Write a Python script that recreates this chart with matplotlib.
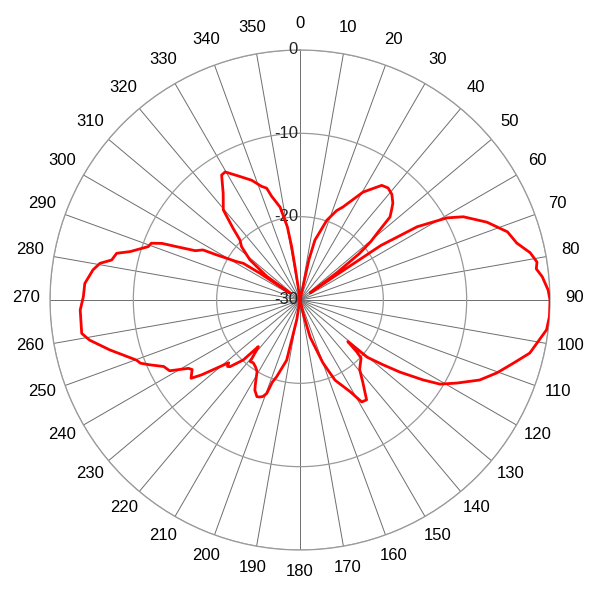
"""
Polar radiation pattern (gain in dB vs azimuth)
"""

import matplotlib
matplotlib.use('Agg')
import matplotlib.pyplot as plt
import matplotlib.transforms as mtransforms
import numpy as np

# azimuth in degrees (0 = north, clockwise) and gain in dB
angles = [0, 11, 12.5, 14, 18.6, 22.3, 24.8, 30.3, 35.5, 38.2, 41, 43.8, 45.5,
          47.3, 49, 50.5, 52, 53.5, 54.8, 55.5, 56, 58, 60.8, 63, 67.4, 71.8,
          75.3, 78.4, 80.9, 82.5, 84.5, 87.7, 90, 93.8, 96.9, 99.9, 103, 106.5,
          110.3, 114, 117.9, 121, 123, 125.8, 128, 130.4, 131, 132.4, 133.5,
          139.4, 142.8, 146.3, 148.8, 151.4, 156.4, 160, 164.8, 167, 170, 186,
          189.4, 192.5, 196.9, 198.6, 199.6, 201, 202.5, 204, 206.6, 208, 211,
          214, 216.7, 219, 220.3, 221.8, 223.4, 226.4, 227.5, 228.6, 229.7,
          232.7, 234.3, 237.2, 238.5, 241.5, 244, 246.6, 248.4, 249.8, 255.3,
          259.2, 261.3, 267.4, 270.9, 274.4, 278.3, 280.4, 282, 284.3, 285.9,
          289.4, 290.9, 292.3, 293.4, 295.2, 297.3, 298.4, 301.2, 302.9, 303.7,
          304.6, 305.5, 308.7, 312.4, 315, 317, 319.6, 324.3, 327.9, 329.7, 334,
          338, 341.3, 343.4, 344.7, 347.9, 350.2, 351.1, 351.5, 352, 353, 360]
gain = [-30, -30, -25, -22.6, -19.9, -18.4, -17.7, -15, -13.1, -12.9, -13.2,
        -13.9, -14.6, -15.3, -17.6, -19.0, -21, -24.5, -28.5, -25, -18.3,
        -13.4, -9.8, -8, -5.7, -3.8, -3.1, -1.8, -1.2, -1.4, -0.8, -0.2, 0, 0,
        -0.2, -1.0, -1.7, -3.3, -4.8, -6.4, -8.7, -10.4, -12.4, -15.2, -17.4,
        -19.4, -22.4, -20.8, -19.9, -19, -17.5, -15.6, -15.7, -17.5, -19.5,
        -22, -25.4, -28.4, -30, -30, -27.6, -22.6, -20.4, -19.6, -18.1, -17.6,
        -17.4, -17.3, -17.9, -18.6, -20, -20.4, -20.6, -20.5, -21.6, -22.5,
        -20.1, -18.4, -18.2, -18.6, -17.9, -15.2, -13.9, -14.6, -14.3, -12.2,
        -11.8, -10.4, -9.4, -9.1, -6.4, -4.3, -3.5, -3.6, -4.0, -4.1, -4.9,
        -5.6, -6.9, -7.3, -8.8, -10.7, -10.9, -12.1, -13.9, -16.1, -16.9,
        -18.6, -21.1, -21.9, -24.2, -28.5, -25.1, -22.3, -20.5, -19.8, -18.2,
        -15.8, -14.2, -12.3, -12.2, -13.5, -14.5, -15.6, -16, -17.1, -18.6,
        -21.1, -23.5, -26, -28.4, -30, -30]

theta_ticks = list(range(0, 360, 10))
r_ticks = [-30, -20, -10, 0]
r_labels = ['-30', '-20', '-10', '0']


def main():
	plt.rcParams['font.family'] = ['Liberation Sans', 'DejaVu Sans']

	fig = plt.figure(figsize=(6, 6), dpi=100)
	ax = fig.add_axes([50 / 600, 50 / 600, 500 / 600, 500 / 600], projection='polar')
	ax.set_theta_zero_location('N')
	ax.set_theta_direction(-1)
	ax.set_rlim(-30, 0)

	# angular grid and labels
	ax.set_thetagrids(theta_ticks, [str(t) for t in theta_ticks])
	ax.tick_params(axis='x', pad=7, labelsize=12, colors='black')
	ax.xaxis.grid(True, color='#6e6e6e', linewidth=0.7)
	# nudge the angle labels up a little
	up = mtransforms.ScaledTranslation(0, 2.5 / 100, fig.dpi_scale_trans)
	for tick in ax.xaxis.get_major_ticks():
		tick.label1.set_transform(tick.label1.get_transform() + up)

	# radial rings, labels drawn by hand left of the 0 spoke
	ax.set_rgrids(r_ticks, [''] * len(r_ticks))
	ax.yaxis.grid(True, color='#9a9a9a', linewidth=0.9)
	ax.spines['polar'].set_color('#9a9a9a')
	ax.spines['polar'].set_linewidth(0.9)
	shift = mtransforms.offset_copy(ax.transData, fig=fig, x=-2, y=0, units='dots')
	for r, lab in zip(r_ticks, r_labels):
		ax.text(0, r, lab, transform=shift, ha='right', va='center', fontsize=12,
			color='#222222')

	# pattern
	th = np.deg2rad(angles)
	ax.plot(th, np.clip(gain, -30, 0), color='red', linewidth=2.0, zorder=5)

	fig.savefig('out.png', dpi=100)


if __name__ == '__main__':
	main()
